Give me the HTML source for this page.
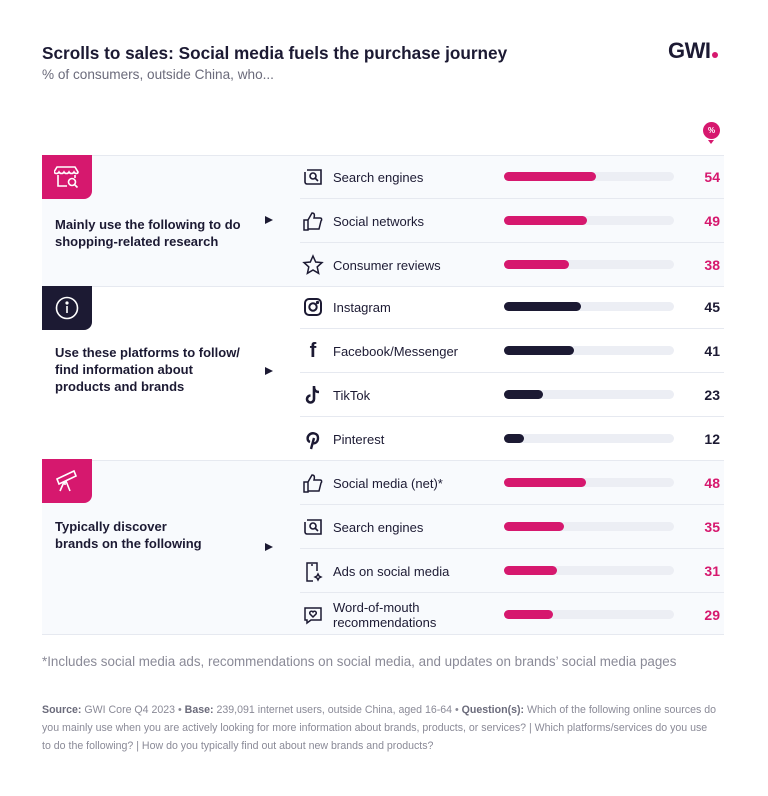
<!DOCTYPE html>
<html><head><meta charset="utf-8"><style>
*{margin:0;padding:0;box-sizing:border-box}
body{width:768px;height:796px;background:#fff;font-family:"Liberation Sans",sans-serif;position:relative;overflow:hidden;color:#1c1a33}
.a{position:absolute}
.a b{color:#6b6b7b}
.sec{position:absolute;left:42px;width:682px;border-top:1px solid #e6e9f0}
.bg{background:#f8fafd}
.icon{position:absolute;left:42px;width:50px;height:44px;border-bottom-right-radius:8px;display:flex;align-items:center;justify-content:center}
.lab{position:absolute;left:55px;font-size:13px;font-weight:bold;line-height:17px;color:#1c1a33}
.arr{position:absolute;left:265px;width:0;height:0;border-left:8px solid #1c1a33;border-top:4.5px solid transparent;border-bottom:4.5px solid transparent}
.row{position:absolute;left:300px;width:424px;height:44px;border-bottom:1px solid #e6e9f0}
.row .t{position:absolute;left:33px;top:0;height:44px;display:flex;align-items:center;font-size:13px;color:#1c1a33;line-height:15px}
.row .ic{position:absolute;left:2px;top:11px;width:22px;height:22px}
.track{position:absolute;left:204px;top:17px;width:170px;height:9px;border-radius:5px;background:#eceef4}
.bar{position:absolute;left:0;top:0;height:9px;border-radius:5px}
.v{position:absolute;right:4px;top:0;height:44px;display:flex;align-items:center;font-size:14px;font-weight:bold}
</style></head><body>
<div class="a" style="left:42px;top:43px;font-size:17.2px;font-weight:bold">Scrolls to sales: Social media fuels the purchase journey</div>
<div class="a" style="left:42px;top:67px;font-size:13.6px;color:#6b6b7b">% of consumers, outside China, who...</div>
<div class="a" style="left:668px;top:38px;font-size:22px;font-weight:bold;letter-spacing:-0.5px">GWI<span style="display:inline-block;width:6px;height:6px;border-radius:3px;background:#d6186e;margin-left:1px"></span></div>
<div class="a" style="left:703px;top:122px;width:17px;height:17px;border-radius:9px;background:#d6186e;color:#fff;font-size:8px;font-weight:bold;text-align:center;line-height:17px">%</div>
<div class="a" style="left:708px;top:140px;border-top:4px solid #d6186e;border-left:3.5px solid transparent;border-right:3.5px solid transparent"></div>

<div class="sec bg" style="top:155px;height:131px"></div>
<div class="sec" style="top:286px;height:174px"></div>
<div class="sec bg" style="top:460px;height:175px;border-bottom:1px solid #e6e9f0"></div>

<div class="icon" style="top:155px;background:#d6186e"><svg width="26" height="24" viewBox="0 0 26 24" fill="none" stroke="#fff" stroke-width="1.6"><path d="M3 2h18l3 5c0 2-3 2-4 0c-1 2-4 2-5 0c-1 2-4 2-5 0c-1 2-4 2-5 0c-1 2-4 2-5 0z"/><path d="M4 10v11h9M21 10v3"/><circle cx="18" cy="17" r="3.5"/><path d="M20.5 19.5l3 3"/></svg></div>
<div class="lab" style="top:216px">Mainly use the following to do<br>shopping-related research</div>
<div class="arr" style="top:216px"></div>

<div class="icon" style="top:286px;background:#1c1a33"><svg width="26" height="26" viewBox="0 0 26 26" fill="none" stroke="#fff" stroke-width="1.6"><circle cx="13" cy="13" r="10.5"/><path d="M13 11v7"/><circle cx="13" cy="8" r="0.8" fill="#fff"/></svg></div>
<div class="lab" style="top:344px">Use these platforms to follow/<br>find information about<br>products and brands</div>
<div class="arr" style="top:367px"></div>

<div class="icon" style="top:459px;background:#d6186e"><svg width="26" height="24" viewBox="0 0 26 24" fill="none" stroke="#fff" stroke-width="1.6"><path d="M3 10l17-8 2 5-17 8z"/><path d="M10 13l-4 9M12 12l4 10M11 13v3"/></svg></div>
<div class="lab" style="top:518px">Typically discover<br>brands on the following</div>
<div class="arr" style="top:543px"></div>

<div class="row" style="top:155px"><svg class="ic" viewBox="0 0 22 22" fill="none" stroke="#1c1a33" stroke-width="1.6"><path d="M5 4h14v14H5a2 2 0 0 1-2-2V6"/><circle cx="11" cy="10" r="3"/><path d="M13 12l3 3"/></svg><div class="t">Search engines</div><div class="track"><div class="bar" style="width:92px;background:#d6186e"></div></div><div class="v" style="color:#d6186e">54</div></div>
<div class="row" style="top:199px"><svg class="ic" viewBox="0 0 22 22" fill="none" stroke="#1c1a33" stroke-width="1.5"><path d="M2 10h4v10H2zM6 10l4-7c2 0 3 1 2 5h6c2 0 2 2 1 3l-2 8H6"/></svg><div class="t">Social networks</div><div class="track"><div class="bar" style="width:83px;background:#d6186e"></div></div><div class="v" style="color:#d6186e">49</div></div>
<div class="row" style="top:243px"><svg class="ic" viewBox="0 0 22 22" fill="none" stroke="#1c1a33" stroke-width="1.5"><path d="M11 2l2.7 6 6.3.6-4.8 4.3 1.4 6.4L11 16l-5.6 3.3 1.4-6.4L2 8.6 8.3 8z"/></svg><div class="t">Consumer reviews</div><div class="track"><div class="bar" style="width:65px;background:#d6186e"></div></div><div class="v" style="color:#d6186e">38</div></div>

<div class="row" style="top:285px"><svg class="ic" viewBox="0 0 22 22" fill="none" stroke="#1c1a33" stroke-width="2"><rect x="3" y="3" width="16" height="16" rx="4"/><circle cx="11" cy="11" r="3.7"/><circle cx="15.5" cy="6.5" r="0.6" fill="#1c1a33"/></svg><div class="t">Instagram</div><div class="track"><div class="bar" style="width:77px;background:#1c1a33"></div></div><div class="v">45</div></div>
<div class="row" style="top:329px"><div class="ic" style="font-size:20px;font-weight:bold;text-align:center;line-height:22px">f</div><div class="t">Facebook/Messenger</div><div class="track"><div class="bar" style="width:70px;background:#1c1a33"></div></div><div class="v">41</div></div>
<div class="row" style="top:373px"><svg class="ic" viewBox="0 0 22 22" fill="none" stroke="#1c1a33" stroke-width="2.6"><path d="M12 2v13a3.5 3.5 0 1 1-3.5-3.5M12 3c0 3 2 5 5 5"/></svg><div class="t">TikTok</div><div class="track"><div class="bar" style="width:39px;background:#1c1a33"></div></div><div class="v">23</div></div>
<div class="row" style="top:417px"><svg class="ic" viewBox="0 0 22 22" fill="none" stroke="#1c1a33" stroke-width="2.4"><path d="M9 21l3-11M8 14c-3-1-3-5-1-7 3-3 9-2 9 3 0 4-3 6-5 5"/></svg><div class="t">Pinterest</div><div class="track"><div class="bar" style="width:20px;background:#1c1a33"></div></div><div class="v">12</div></div>

<div class="row" style="top:461px"><svg class="ic" viewBox="0 0 22 22" fill="none" stroke="#1c1a33" stroke-width="1.5"><path d="M2 10h4v10H2zM6 10l4-7c2 0 3 1 2 5h6c2 0 2 2 1 3l-2 8H6"/></svg><div class="t">Social media (net)*</div><div class="track"><div class="bar" style="width:82px;background:#d6186e"></div></div><div class="v" style="color:#d6186e">48</div></div>
<div class="row" style="top:505px"><svg class="ic" viewBox="0 0 22 22" fill="none" stroke="#1c1a33" stroke-width="1.6"><path d="M5 4h14v14H5a2 2 0 0 1-2-2V6"/><circle cx="11" cy="10" r="3"/><path d="M13 12l3 3"/></svg><div class="t">Search engines</div><div class="track"><div class="bar" style="width:60px;background:#d6186e"></div></div><div class="v" style="color:#d6186e">35</div></div>
<div class="row" style="top:549px"><svg class="ic" viewBox="0 0 22 22" fill="none" stroke="#1c1a33" stroke-width="1.5"><path d="M15 11V3H5v18h6M9 5h2"/><path d="M16 14l1 2 2 1-2 1-1 2-1-2-2-1 2-1z"/></svg><div class="t">Ads on social media</div><div class="track"><div class="bar" style="width:53px;background:#d6186e"></div></div><div class="v" style="color:#d6186e">31</div></div>
<div class="row" style="top:593px;border-bottom:none"><svg class="ic" viewBox="0 0 22 22" fill="none" stroke="#1c1a33" stroke-width="1.5"><path d="M3 4h16v12H9l-4 3v-3H3z"/><path d="M11 13l-3-3a1.5 1.5 0 0 1 3-2 1.5 1.5 0 0 1 3 2z"/></svg><div class="t">Word-of-mouth<br>recommendations</div><div class="track"><div class="bar" style="width:49px;background:#d6186e"></div></div><div class="v" style="color:#d6186e">29</div></div>

<div class="a" style="left:42px;top:654px;font-size:13.4px;color:#8a8a97;white-space:nowrap">*Includes social media ads, recommendations on social media, and updates on brands’ social media pages</div>
<div class="a" style="left:42px;top:701px;width:700px;font-size:10.6px;line-height:18px;color:#8a8a97;white-space:nowrap"><b>Source:</b> GWI Core Q4 2023 • <b>Base:</b> 239,091 internet users, outside China, aged 16-64 • <b>Question(s):</b> Which of the following online sources do<br>you mainly use when you are actively looking for more information about brands, products, or services? | Which platforms/services do you use<br>to do the following? | How do you typically find out about new brands and products?</div>
</body></html>
